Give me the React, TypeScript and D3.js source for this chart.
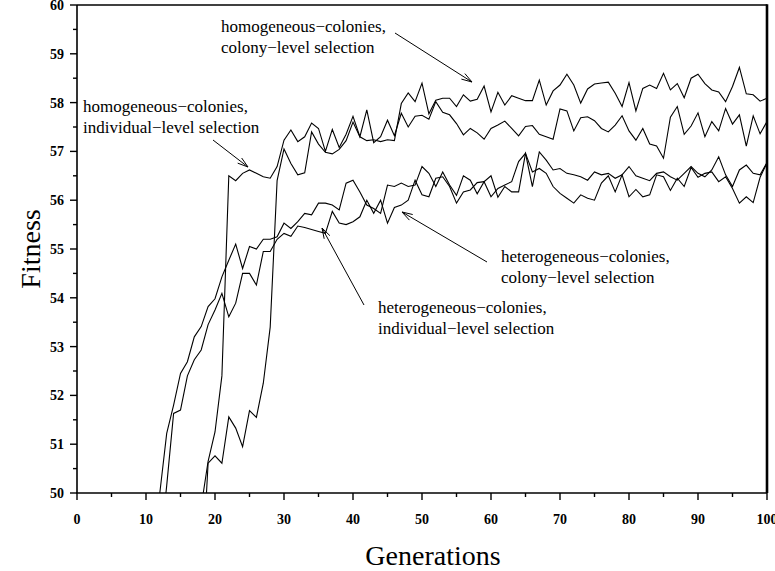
import React from "react";
import * as d3 from "d3";

const W = 775;
const H = 571;
const plot = { left: 77, right: 767, top: 5, bottom: 493 };

// generations / fitness axes
const genMajor = d3.range(0, 101, 10);
const genMinor = d3.range(5, 100, 10);
const fitMajor = d3.range(50, 61, 1);
const fitMinor = d3.range(50.5, 60, 1);

// homogeneous-colonies, colony-level selection (starts at generation 18)
const homColonyStart = 18;
const homColony = [
  48.0, 50.61, 50.76, 50.61, 51.56, 51.33, 50.95, 51.69, 51.55, 52.25,
  53.4, 56.4, 57.05, 56.75, 56.52, 56.56, 57.4, 57.15, 56.98, 56.95,
  57.04, 57.22, 57.6, 57.3, 57.22, 57.24, 57.2, 57.24, 57.22, 57.98,
  58.2, 58.02, 58.4, 57.77, 58.05, 58.09, 58.09, 57.92, 58.16, 58.03,
  58.07, 58.34, 57.81, 58.21, 57.95, 58.14, 58.09, 58.04, 58.04, 58.46,
  57.95, 58.24, 58.36, 58.58, 58.36, 57.99, 58.28, 58.38, 58.4, 58.42,
  58.19, 57.92, 58.41, 57.83, 58.29, 58.36, 58.29, 58.6, 58.26, 58.39,
  58.1, 58.5, 58.58, 58.39, 58.26, 58.22, 58.02, 58.33, 58.72, 58.18,
  58.16, 58.03, 58.09,
];

// homogeneous-colonies, individual-level selection
const homIndivStart = 18;
const homIndiv = [
  49.72, 50.65, 51.25, 52.4, 56.5, 56.4, 56.55, 56.62, 56.55, 56.48,
  56.45, 56.69, 57.23, 57.44, 57.2, 57.3, 57.58, 57.47, 57.0, 57.45,
  57.08, 57.35, 57.72, 57.3, 57.85, 57.18, 57.3, 57.64, 57.32, 57.78,
  57.5, 57.72, 57.74, 57.66, 58.02, 57.8, 57.75, 57.57, 57.34, 57.47,
  57.38, 57.25, 57.47, 57.54, 57.62, 57.47, 57.32, 57.51, 57.53, 57.35,
  57.3, 57.25, 57.87, 57.83, 57.42, 57.69, 57.71, 57.63, 57.47, 57.4,
  57.54, 57.73, 57.42, 57.23, 57.47, 57.15, 57.11, 56.86, 57.7, 57.92,
  57.35, 57.52, 57.79, 57.3, 57.61, 57.42, 57.88, 57.56, 57.75, 57.11,
  57.73, 57.36, 57.61,
];

// heterogeneous-colonies, colony-level selection
const hetColonyStart = 11;
const hetColony = [
  48.8, 50.0, 51.22, 51.8, 52.45, 52.69, 53.2, 53.41, 53.82, 53.98,
  54.43, 54.77, 55.1, 54.6, 55.05, 55.0, 55.2, 55.2, 55.25, 55.53,
  55.42, 55.56, 55.73, 55.7, 55.94, 55.94, 55.9, 55.8, 56.35, 56.41,
  56.17, 55.9, 55.83, 55.73, 56.31, 56.28, 56.35, 56.28, 56.31, 56.69,
  56.55, 56.28, 56.58, 56.31, 56.1, 56.5, 56.41, 56.13, 56.38, 56.07,
  56.24, 56.31, 56.38, 56.79, 56.96, 56.28, 56.99, 56.82, 56.62, 56.65,
  56.55, 56.52, 56.48, 56.41, 56.58, 56.52, 56.55, 56.45, 56.52, 56.69,
  56.5, 56.45, 56.4, 56.55, 56.58, 56.48, 56.41, 56.55, 56.69, 56.55,
  56.48, 56.62, 56.89, 56.52, 56.28, 56.62, 56.72, 56.55, 56.52, 56.77,
];

// heterogeneous-colonies, individual-level selection
const hetIndivStart = 12;
const hetIndiv = [
  48.8, 50.15, 51.63, 51.7, 52.4, 52.73, 52.93, 53.45, 53.75, 54.09,
  53.61, 53.89, 54.5, 54.5, 54.26, 54.95, 54.95, 55.2, 55.32, 55.26,
  55.47, 55.44, 55.4, 55.36, 55.32, 55.77, 55.53, 55.5, 55.56, 55.66,
  56.0, 55.73, 56.0, 55.53, 55.85, 55.9, 56.0, 56.41, 56.11, 56.07,
  56.45, 56.48, 56.28, 55.94, 56.17, 56.21, 56.36, 56.38, 56.5, 56.06,
  56.28, 56.17, 56.17, 56.96, 56.58, 56.65, 56.55, 56.28, 56.14, 56.04,
  55.94, 56.11, 56.04, 56.0, 56.35, 56.5, 56.17, 56.52, 56.07, 56.22,
  56.07, 56.11, 56.52, 56.48, 56.2, 56.45, 56.28, 56.67, 56.47, 56.55,
  56.58, 56.38, 56.48, 56.24, 55.94, 56.07, 55.95, 56.47, 56.76,
];

const series = [
  { start: homColonyStart, values: homColony },
  { start: homIndivStart, values: homIndiv },
  { start: hetColonyStart, values: hetColony },
  { start: hetIndivStart, values: hetIndiv },
];

// label text, its left/baseline position, arrow tail and head (pixels)
const notes = [
  { lines: ["homogeneous\u2212colonies,", "colony\u2212level selection"], x: 221, y: 32, from: [395, 33], to: [472, 82] },
  { lines: ["homogeneous\u2212colonies,", "individual\u2212level selection"], x: 83, y: 112, from: [213, 140], to: [248, 167] },
  { lines: ["heterogeneous\u2212colonies,", "colony\u2212level selection"], x: 501, y: 262, from: [487, 262], to: [402, 212] },
  { lines: ["heterogeneous\u2212colonies,", "individual\u2212level selection"], x: 378, y: 313, from: [364, 305], to: [322, 228] },
];

const serif = "'Liberation Serif', 'Times New Roman', Times, serif";

function arrowHead(from: number[], to: number[]) {
  const a = Math.atan2(to[1] - from[1], to[0] - from[0]);
  const len = 11;
  const spread = 0.3;
  const p1 = [to[0] - len * Math.cos(a - spread), to[1] - len * Math.sin(a - spread)];
  const p2 = [to[0] - len * Math.cos(a + spread), to[1] - len * Math.sin(a + spread)];
  return `M${p1[0]},${p1[1]}L${to[0]},${to[1]}L${p2[0]},${p2[1]}`;
}

export default function App() {
  const x = d3.scaleLinear().domain([0, 100]).range([plot.left, plot.right]);
  const y = d3.scaleLinear().domain([50, 60]).range([plot.bottom, plot.top]);

  const line = d3
    .line<[number, number]>()
    .x((d) => x(d[0]))
    .y((d) => y(d[1]));

  return (
    <svg
      width={W}
      height={H}
      style={{ position: "absolute", left: 0, top: 0, background: "#fff" }}
    >
      <defs>
        <clipPath id="plotClip">
          <rect x={plot.left} y={plot.top} width={plot.right - plot.left} height={plot.bottom - plot.top} />
        </clipPath>
      </defs>

      {/* data */}
      <g clipPath="url(#plotClip)" fill="none" stroke="#000" strokeWidth={1.1} strokeLinejoin="miter">
        {series.map((s, i) => (
          <path key={i} d={line(s.values.map((v, j) => [s.start + j, v] as [number, number])) || ""} />
        ))}
      </g>

      {/* frame */}
      <g stroke="#000" fill="none">
        <line x1={plot.left} x2={plot.right} y1={plot.top} y2={plot.top} strokeWidth={1.6} />
        <line x1={plot.right} x2={plot.right} y1={plot.top - 0.8} y2={plot.bottom} strokeWidth={2.6} />
        <line x1={plot.left} x2={plot.left} y1={plot.top} y2={plot.bottom} strokeWidth={1.6} />
        <line x1={plot.left - 0.8} x2={plot.right} y1={plot.bottom} y2={plot.bottom} strokeWidth={1.6} />
      </g>

      {/* ticks */}
      <g stroke="#000" strokeWidth={1.4}>
        {genMajor.map((t) => (
          <line key={"xM" + t} x1={x(t)} x2={x(t)} y1={plot.bottom} y2={plot.bottom + 7} />
        ))}
        {genMinor.map((t) => (
          <line key={"xm" + t} x1={x(t)} x2={x(t)} y1={plot.bottom} y2={plot.bottom + 4} />
        ))}
        {fitMajor.map((t) => (
          <line key={"yM" + t} x1={plot.left - 7} x2={plot.left} y1={y(t)} y2={y(t)} />
        ))}
        {fitMinor.map((t) => (
          <line key={"ym" + t} x1={plot.left - 4} x2={plot.left} y1={y(t)} y2={y(t)} />
        ))}
      </g>

      <g fontFamily={serif} fontWeight="bold" fontSize={14} fill="#000">
        {genMajor.map((t) => (
          <text key={"xl" + t} x={x(t)} y={524} textAnchor="middle">
            {t}
          </text>
        ))}
        {fitMajor.map((t) => (
          <text key={"yl" + t} x={plot.left - 13} y={y(t) + 5} textAnchor="end">
            {t}
          </text>
        ))}
      </g>

      {/* axis titles */}
      <text x={433} y={565} textAnchor="middle" fontFamily={serif} fontSize={28}>
        Generations
      </text>
      <text
        transform={`translate(40, ${(plot.top + plot.bottom) / 2}) rotate(-90)`}
        textAnchor="middle"
        fontFamily={serif}
        fontSize={28}
      >
        Fitness
      </text>

      {/* annotations */}
      <g fontFamily={serif} fontSize={17} fill="#000">
        {notes.map((n, i) => (
          <g key={i}>
            {n.lines.map((l, k) => (
              <text key={k} x={n.x} y={n.y + k * 21}>
                {l}
              </text>
            ))}
            <line x1={n.from[0]} y1={n.from[1]} x2={n.to[0]} y2={n.to[1]} stroke="#000" strokeWidth={1} />
            <path d={arrowHead(n.from, n.to)} stroke="#000" strokeWidth={1} fill="none" />
          </g>
        ))}
      </g>
    </svg>
  );
}
